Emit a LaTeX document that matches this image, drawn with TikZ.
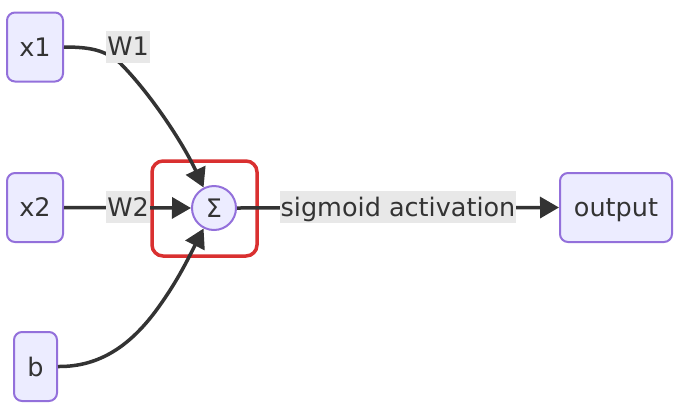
\documentclass[tikz,border=0pt]{standalone}
\usepackage{fontspec}
\setmainfont{DejaVu Sans}
\usetikzlibrary{arrows.meta}
\definecolor{nodefill}{HTML}{ECECFF}
\definecolor{nodeline}{HTML}{9370DB}
\definecolor{edgecol}{HTML}{333333}
\definecolor{lblfill}{HTML}{E8E8E8}
\definecolor{hlred}{HTML}{D93030}
\begin{document}
\begin{tikzpicture}[x=1pt,y=-1pt,
  every node/.style={font=\fontsize{25.5}{30}\selectfont, text=edgecol},
  boxnode/.style={draw=nodeline, fill=nodefill, line width=2pt, rounded corners=8pt, inner sep=0pt, minimum height=69pt, text depth=0pt},
  sumnode/.style={draw=nodeline, fill=nodefill, line width=2pt, circle, inner sep=0pt, minimum size=44pt},
  lbl/.style={fill=lblfill, inner xsep=1pt, inner ysep=0pt, minimum height=32pt, text depth=0pt},
  edge/.style={draw=edgecol, line width=3.5pt, -{Triangle[length=19pt,width=21pt]}},
  hlbox/.style={draw=hlred, line width=3.5pt, rounded corners=11pt, minimum width=105pt, minimum height=95pt, inner sep=0pt}
]
\useasboundingbox (0,0) rectangle (680,413);
\node[boxnode, minimum width=56pt] (x1) at (35,47) {x1};
\node[boxnode, minimum width=56pt] (x2) at (35,207.5) {x2};
\node[boxnode, minimum width=43pt] (b) at (35.5,366.5) {b};
\node[boxnode, minimum width=112pt] (out) at (616,207.5) {output};
\node[sumnode] (sig) at (214,208) {Σ};
\node[hlbox] (hl) at (204.5,208.5) {};
% edges
\draw[edge] (x1.east) .. controls (90,47) and (105,50) .. (120,63) .. controls (150,93) and (183,143) .. (sig.117);
\draw[edge] (b.east) .. controls (100,367) and (130,345) .. (155,312) .. controls (175,285) and (185,265) .. (sig.243);
\draw[edge] (x2.east) -- (sig.west);
\draw[edge] (sig.east) -- (out.west);
% labels
\node[lbl] (w1) at (128,46.5) {W1};
\node[lbl] (w2) at (128,207) {W2};
\node[lbl] (sa) at (398,206.5) {sigmoid activation};
\end{tikzpicture}
\end{document}
